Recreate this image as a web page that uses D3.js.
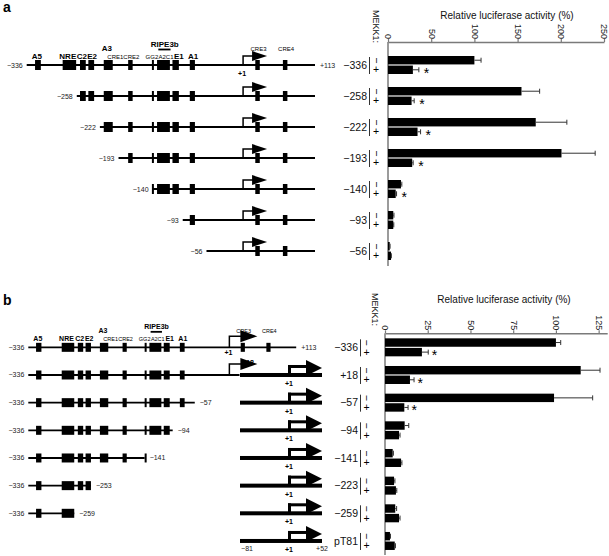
<!DOCTYPE html>
<html><head><meta charset="utf-8">
<script src="https://cdn.jsdelivr.net/npm/d3@7/dist/d3.min.js"></script>
<style>
html,body{margin:0;padding:0;background:#fff;}
svg{display:block;font-family:"Liberation Sans",Arial,sans-serif;}
</style></head>
<body>
<svg id="fig" width="609" height="556"></svg>
<script>
// ---------------- data ----------------
// panel a : deletion constructs, relative luciferase activity (%)
const aGroups   = ["−336","−258","−222","−193","−140","−93","−56"];
const aMinus    = [100, 154.5, 171, 200.8, 15, 6.1, 2];
const aMinusErr = [7.7, 21, 36, 39, 1, 0.8, 0.4];
const aPlus     = [28.8, 27.3, 34.2, 28, 8.9, 6.1, 3.5];
const aPlusErr  = [6.9, 3, 3.5, 1.1, 1, 0.6, 0.4];
const aStars    = [1, 1, 1, 1, 1, 0, 0];
const aTicks    = [0, 50, 100, 150, 200, 250];
const aRowStart = [-336, -258, -222, -193, -140, -93, -56];
const aRowEnd   = [113, 113, 113, 113, 113, 113, 113];
const aEndLabel = ["+113", "", "", "", "", "", ""];

// panel b : 3' deletions fused to pT81
const bGroups   = ["−336","+18","−57","−94","−141","−223","−259","pT81"];
const bMinus    = [100, 114.5, 98.9, 11.5, 4.5, 5.3, 6, 2.9];
const bMinusErr = [2.8, 11.3, 22.6, 2.4, 0.4, 0.5, 0.8, 0.3];
const bPlus     = [21.6, 14.6, 11.3, 8.2, 9.4, 6.4, 8.2, 5.7];
const bPlusErr  = [3.7, 2.4, 2.2, 0.6, 0.5, 0.5, 0.6, 0.4];
const bStars    = [1, 1, 1, 0, 0, 0, 0, 0];
const bTicks    = [0, 25, 50, 75, 100, 125];
const bRowStart = [-336, -336, -336, -336, -336, -336, -336, null];
const bRowEnd   = [113, 18, -57, -94, -141, -231, -259, null];
const bEndLabel = ["+113", "", "−57", "−94", "−141", "−253", "−259", ""];
const bReporter = [0, 1, 1, 1, 1, 1, 1, 1];

// promoter elements (bp relative to +1)
const elemStart = [-323, -280, -253, -240, -216, -178, -141, -133, -109, -82, 20, 63];
const elemEnd   = [-314, -259, -244, -231, -202, -171, -139, -113, -99, -74, 27, 70];
// element labels
const labelNames = ["A5","NRE","C2","E2","A3","CRE1","CRE2","GG2","A2C1","E1","A1","CRE3","CRE4","RIPE3b"];
const labelPos   = [-320, -272, -250, -234, -211, -198, -173, -141, -119, -99, -77, 25, 68, -121];
const labelSmall = [0, 0, 0, 0, 0, 1, 1, 1, 1, 0, 0, 1, 1, 0];
const labelLevel = [0, 0, 0, 0, 1, 0, 0, 0, 0, 0, 0, 1, 1, 2];
const ripeSpan   = [-131, -112];
// pT81 reporter coordinates
const repDomain  = [-81, 1, 52];

// ---------------- drawing ----------------
const svg = d3.select("#fig");

const panels = [
  {letter:"a", letterY:12, groups:aGroups, minus:aMinus, minusErr:aMinusErr, plus:aPlus, plusErr:aPlusErr,
   stars:aStars, ticks:aTicks, domain:[0,250], xRange:[388,604], axisY:42, axisBottom:266, yRange:[49.5,266.5],
   titleX:507, titleY:19, mekkX:376, mekkY:10, pmX:376, bracketX:369.5, labelX:367, starDx:5,
   rowStart:aRowStart, rowEnd:aRowEnd, endLabel:aEndLabel, reporter:null,
   diag:[26.7,315], hh:5, arrH:9, stem:10, headH:5, headL:15, plus1Dy:10.5, bigFont:8, smallFont:6},
  {letter:"b", letterY:305, groups:bGroups, minus:bMinus, minusErr:bMinusErr, plus:bPlus, plusErr:bPlusErr,
   stars:bStars, ticks:bTicks, domain:[0,130], xRange:[385,607.2], axisY:333.3, axisBottom:555, yRange:[333.5,554.8],
   titleX:504, titleY:303, mekkX:375, mekkY:293, pmX:366.5, bracketX:360.5, labelX:358, starDx:3.5,
   rowStart:bRowStart, rowEnd:bRowEnd, endLabel:bEndLabel, reporter:bReporter,
   diag:[28.3,296.2], hh:4.5, arrH:11, stem:12, headH:6, headL:17, plus1Dy:8, bigFont:7, smallFont:5.5}
];

panels.forEach(p => {
  const g = svg.append("g");
  g.append("text").attr("x",3).attr("y",p.letterY).attr("font-size",14).attr("font-weight","bold").text(p.letter);

  // ---- bar chart ----
  const x = d3.scaleLinear().domain(p.domain).range(p.xRange);
  const y = d3.scaleBand().domain(p.groups).range(p.yRange);
  const sub = d3.scaleBand().domain(["minus","plus"]).range([-9,9]).paddingInner(0.12);
  const bw = sub.bandwidth();

  const ax = g.append("g").attr("transform",`translate(0,${p.axisY})`)
    .call(d3.axisTop(x).tickValues(p.ticks).tickSize(3).tickSizeOuter(0).tickFormat(d3.format("d")));
  ax.attr("font-family",'"Liberation Sans",Arial,sans-serif');
  ax.select(".domain").attr("stroke","#7a7a7a").attr("stroke-width",1.5);
  ax.selectAll(".tick line").attr("stroke","#7a7a7a").attr("stroke-width",1.2);
  ax.selectAll(".tick text").attr("transform","rotate(90)").attr("x",-3).attr("y",0)
    .attr("dy","0.35em").attr("text-anchor","end").attr("font-size",9).attr("fill","#222");
  g.append("line").attr("x1",x(0)).attr("x2",x(0)).attr("y1",p.axisY).attr("y2",p.axisBottom)
    .attr("stroke","#7a7a7a").attr("stroke-width",1.5);

  g.append("text").attr("x",p.titleX).attr("y",p.titleY).attr("text-anchor","middle")
    .attr("font-size",10).attr("fill","#111").text("Relative luciferase activity (%)");
  g.append("text").attr("transform",`translate(${p.mekkX},${p.mekkY}) rotate(90)`)
    .attr("dy","0.35em").attr("font-size",9).attr("fill","#111").text("MEKK1:");

  p.groups.forEach((grp,i) => {
    const c = y(grp) + y.bandwidth()/2;
    [["minus",p.minus[i],p.minusErr[i]],["plus",p.plus[i],p.plusErr[i]]].forEach(([k,v,e]) => {
      const by = c + sub(k);
      const cy = by + bw/2;
      g.append("rect").attr("x",x(0)).attr("y",by).attr("width",x(v)-x(0)).attr("height",bw).attr("fill","#000");
      g.append("line").attr("x1",x(v)).attr("x2",x(v+e)).attr("y1",cy).attr("y2",cy).attr("stroke","#333").attr("stroke-width",1);
      g.append("line").attr("x1",x(v+e)).attr("x2",x(v+e)).attr("y1",cy-2.5).attr("y2",cy+2.5).attr("stroke","#333").attr("stroke-width",1);
    });
    if (p.stars[i]) {
      g.append("text").attr("x",x(p.plus[i]+p.plusErr[i])+p.starDx).attr("y",c+sub("plus")+bw/2+8)
        .attr("font-size",14).text("*");
    }
    g.append("text").attr("x",p.labelX).attr("y",c+3.8).attr("text-anchor","end")
      .attr("font-size",10.5).attr("fill","#111").text(grp);
    g.append("line").attr("x1",p.bracketX).attr("x2",p.bracketX).attr("y1",c-8).attr("y2",c+9)
      .attr("stroke","#333").attr("stroke-width",1);
    g.append("text").attr("transform",`translate(${p.pmX},${c+sub("minus")+bw/2}) rotate(90)`)
      .attr("text-anchor","middle").attr("dy","0.32em").attr("font-size",10.5).text("−");
    g.append("text").attr("x",p.pmX).attr("y",c+sub("plus")+bw/2).attr("dy","0.34em")
      .attr("text-anchor","middle").attr("font-size",10.5).text("+");
  });

  // ---- promoter diagrams ----
  const sx = d3.scaleLinear().domain([-336,113]).range(p.diag);
  const rep = d3.scaleLinear().domain(repDomain).range([240,288,322]);
  const dg = g.append("g");
  p.groups.forEach((grp,i) => {
    const c = y(grp) + y.bandwidth()/2;
    const s = p.rowStart[i], e = p.rowEnd[i];
    if (s !== null) {
      dg.append("line").attr("x1",sx(s)).attr("x2",sx(e)).attr("y1",c).attr("y2",c).attr("stroke","#000").attr("stroke-width",1.8);
      elemStart.forEach((es,j) => {
        const mid = (es + elemEnd[j]) / 2;
        if (mid >= s - 1.5 && mid <= e + 1.5) {
          const w = Math.max(2, sx(elemEnd[j]) - sx(es));
          dg.append("rect").attr("x",sx(es)).attr("y",c-p.hh).attr("width",w).attr("height",2*p.hh).attr("fill","#000");
        }
      });
      const startTxt = (p.letter === "b") ? "−336" : grp;
      dg.append("text").attr("x",sx(s)-4).attr("y",c+2.5).attr("text-anchor","end").attr("fill","#222")
        .attr("font-size",7).text(startTxt);
      if (p.endLabel[i]) {
        dg.append("text").attr("x",sx(e)+5).attr("y",c+2.5).attr("fill","#222")
          .attr("font-size",7).text(p.endLabel[i]);
      }
      if (e >= 1) {
        const vx = sx(1), top = c - p.arrH;
        dg.append("path").attr("d",`M${vx},${c}V${top}H${vx+p.stem}`).attr("fill","none").attr("stroke","#000").attr("stroke-width",1.5);
        const hx = vx + p.stem - 1;
        dg.append("path").attr("d",`M${hx},${top-p.headH}L${hx+p.headL},${top}L${hx},${top+p.headH}Z`).attr("fill","#000");
      }
      if (i === 0) {
        dg.append("text").attr("x",sx(1)-1).attr("y",c+p.plus1Dy).attr("text-anchor","middle")
          .attr("font-weight","bold").attr("font-size",7).text("+1");
        labelNames.forEach((nm,j) => {
          const by = labelLevel[j]===0 ? c-6.5 : labelLevel[j]===1 ? c-14.5 : c-18.5;
          dg.append("text").attr("x",sx(labelPos[j])).attr("y",by).attr("text-anchor","middle")
            .attr("font-size", labelSmall[j] ? p.smallFont : p.bigFont)
            .attr("font-weight", labelSmall[j] ? "normal" : "bold").text(nm);
        });
        dg.append("line").attr("x1",sx(ripeSpan[0])).attr("x2",sx(ripeSpan[1])).attr("y1",c-15.5).attr("y2",c-15.5)
          .attr("stroke","#000").attr("stroke-width",1.8);
      }
      if (p.letter==="b" && e === 18) {
        dg.append("text").attr("x",248).attr("y",c-10).attr("text-anchor","middle")
          .attr("font-weight","bold").attr("font-size",7).text("+18");
      }
    }
    if (p.reporter && p.reporter[i]) {
      const r1 = rep(1);
      dg.append("rect").attr("x",rep(-81)).attr("y",c-2).attr("width",rep(52)-rep(-81)).attr("height",4).attr("fill","#000");
      dg.append("rect").attr("x",r1).attr("y",c-10).attr("width",3).attr("height",10).attr("fill","#000");
      dg.append("rect").attr("x",r1).attr("y",c-10).attr("width",19).attr("height",3).attr("fill","#000");
      dg.append("path").attr("d",`M${r1+18},${c-15}L${rep(52)},${c-7}L${r1+18},${c+1}Z`).attr("fill","#000");
      dg.append("text").attr("x",r1+1).attr("y",c+11).attr("text-anchor","middle")
        .attr("font-weight","bold").attr("font-size",7).text("+1");
      if (s === null) {
        dg.append("text").attr("x",rep(-81)+7).attr("y",c+10).attr("text-anchor","middle")
          .attr("fill","#222").attr("font-size",7).text("−81");
        dg.append("text").attr("x",rep(52)).attr("y",c+10).attr("text-anchor","middle")
          .attr("fill","#222").attr("font-size",7).text("+52");
      }
    }
  });
});
</script>
</body></html>
